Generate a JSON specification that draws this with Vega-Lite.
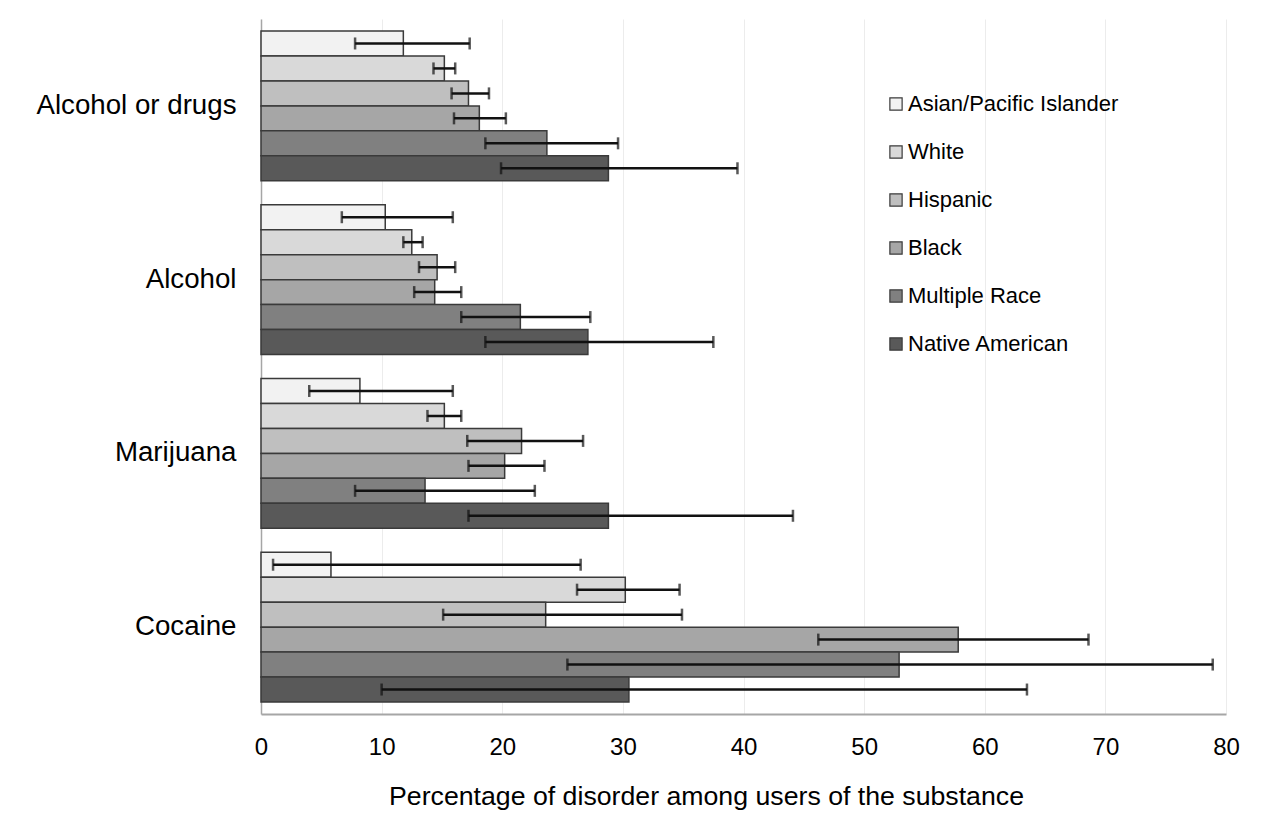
{
  "$schema": "https://vega.github.io/schema/vega-lite/v6.json",
  "autosize": "none",
  "width": 965,
  "height": 695,
  "padding": {"left": 261, "top": 19, "right": 41, "bottom": 125},
  "background": "white",
  "config": {
    "font": "Liberation Sans",
    "view": {"stroke": null}
  },
  "data": {
    "values": [
      {"substance": "Alcohol or drugs", "race": "Asian/Pacific Islander", "value": 11.8, "lo": 7.8, "hi": 17.3},
      {"substance": "Alcohol or drugs", "race": "White", "value": 15.2, "lo": 14.3, "hi": 16.1},
      {"substance": "Alcohol or drugs", "race": "Hispanic", "value": 17.2, "lo": 15.8, "hi": 18.9},
      {"substance": "Alcohol or drugs", "race": "Black", "value": 18.1, "lo": 16.0, "hi": 20.3},
      {"substance": "Alcohol or drugs", "race": "Multiple Race", "value": 23.7, "lo": 18.6, "hi": 29.6},
      {"substance": "Alcohol or drugs", "race": "Native American", "value": 28.8, "lo": 19.9, "hi": 39.5},
      {"substance": "Alcohol", "race": "Asian/Pacific Islander", "value": 10.3, "lo": 6.7, "hi": 15.9},
      {"substance": "Alcohol", "race": "White", "value": 12.5, "lo": 11.8, "hi": 13.4},
      {"substance": "Alcohol", "race": "Hispanic", "value": 14.6, "lo": 13.1, "hi": 16.1},
      {"substance": "Alcohol", "race": "Black", "value": 14.4, "lo": 12.7, "hi": 16.6},
      {"substance": "Alcohol", "race": "Multiple Race", "value": 21.5, "lo": 16.6, "hi": 27.3},
      {"substance": "Alcohol", "race": "Native American", "value": 27.1, "lo": 18.6, "hi": 37.5},
      {"substance": "Marijuana", "race": "Asian/Pacific Islander", "value": 8.2, "lo": 4.0, "hi": 15.9},
      {"substance": "Marijuana", "race": "White", "value": 15.2, "lo": 13.8, "hi": 16.6},
      {"substance": "Marijuana", "race": "Hispanic", "value": 21.6, "lo": 17.1, "hi": 26.7},
      {"substance": "Marijuana", "race": "Black", "value": 20.2, "lo": 17.2, "hi": 23.5},
      {"substance": "Marijuana", "race": "Multiple Race", "value": 13.6, "lo": 7.8, "hi": 22.7},
      {"substance": "Marijuana", "race": "Native American", "value": 28.8, "lo": 17.2, "hi": 44.1},
      {"substance": "Cocaine", "race": "Asian/Pacific Islander", "value": 5.8, "lo": 1.0, "hi": 26.5},
      {"substance": "Cocaine", "race": "White", "value": 30.2, "lo": 26.2, "hi": 34.7},
      {"substance": "Cocaine", "race": "Hispanic", "value": 23.6, "lo": 15.1, "hi": 34.9},
      {"substance": "Cocaine", "race": "Black", "value": 57.8, "lo": 46.2, "hi": 68.6},
      {"substance": "Cocaine", "race": "Multiple Race", "value": 52.9, "lo": 25.4, "hi": 78.9},
      {"substance": "Cocaine", "race": "Native American", "value": 30.5, "lo": 10.0, "hi": 63.5}
    ]
  },
  "encoding": {
    "y": {
      "field": "substance",
      "type": "nominal",
      "sort": ["Alcohol or drugs", "Alcohol", "Marijuana", "Cocaine"],
      "scale": {"paddingInner": 0.138, "paddingOuter": 0.069},
      "axis": {
        "title": null,
        "labelFontSize": 27.7,
        "labelColor": "#000000",
        "labelPadding": 25,
        "labelLimit": 400,
        "ticks": false,
        "domainColor": "#a6a6a6",
        "domainWidth": 1.5,
        "grid": false
      }
    },
    "yOffset": {
      "field": "race",
      "type": "nominal",
      "scale": {
        "domain": ["Asian/Pacific Islander", "White", "Hispanic", "Black", "Multiple Race", "Native American"],
        "paddingInner": 0,
        "paddingOuter": 0
      }
    }
  },
  "layer": [
    {
      "mark": {"type": "bar", "stroke": "#3a3a3a", "strokeWidth": 1.5, "opacity": 1},
      "encoding": {
        "x": {
          "field": "value",
          "type": "quantitative",
          "scale": {"domain": [0, 80], "nice": false},
          "axis": {
            "title": "Percentage of disorder among users of the substance",
            "titleFontSize": 26.7,
            "titleFontWeight": "normal",
            "titleColor": "#000000",
            "titlePadding": 24,
            "titleX": 445,
            "titleAlign": "center",
            "titleAnchor": null,
            "values": [0, 10, 20, 30, 40, 50, 60, 70, 80],
            "labelFontSize": 24,
            "labelColor": "#000000",
            "labelPadding": 21,
            "labelFlush": false,
            "ticks": false,
            "grid": true,
            "gridColor": "#ececec",
            "gridWidth": 1,
            "domainColor": "#a6a6a6",
            "domainWidth": 2
          }
        },
        "color": {
          "field": "race",
          "type": "nominal",
          "scale": {
            "domain": ["Asian/Pacific Islander", "White", "Hispanic", "Black", "Multiple Race", "Native American"],
            "range": ["#f2f2f2", "#d9d9d9", "#bfbfbf", "#a6a6a6", "#808080", "#595959"]
          },
          "legend": {
            "title": null,
            "orient": "none",
            "legendX": 624,
            "legendY": 74,
            "symbolType": "square",
            "symbolSize": 150,
            "symbolStrokeColor": "#3a3a3a",
            "symbolStrokeWidth": 1.2,
            "symbolOpacity": 1,
            "labelFontSize": 22,
            "labelColor": "#000000",
            "labelOffset": 1,
            "rowPadding": 26,
            "labelLimit": 400
          }
        }
      }
    },
    {
      "mark": {"type": "rule", "color": "#111111", "strokeWidth": 2.5},
      "encoding": {
        "x": {"field": "lo", "type": "quantitative"},
        "x2": {"field": "hi"}
      }
    },
    {
      "mark": {"type": "tick", "color": "#111111", "thickness": 2.5, "size": 12, "orient": "vertical"},
      "encoding": {
        "x": {"field": "lo", "type": "quantitative"}
      }
    },
    {
      "mark": {"type": "tick", "color": "#111111", "thickness": 2.5, "size": 12, "orient": "vertical"},
      "encoding": {
        "x": {"field": "hi", "type": "quantitative"}
      }
    }
  ]
}
